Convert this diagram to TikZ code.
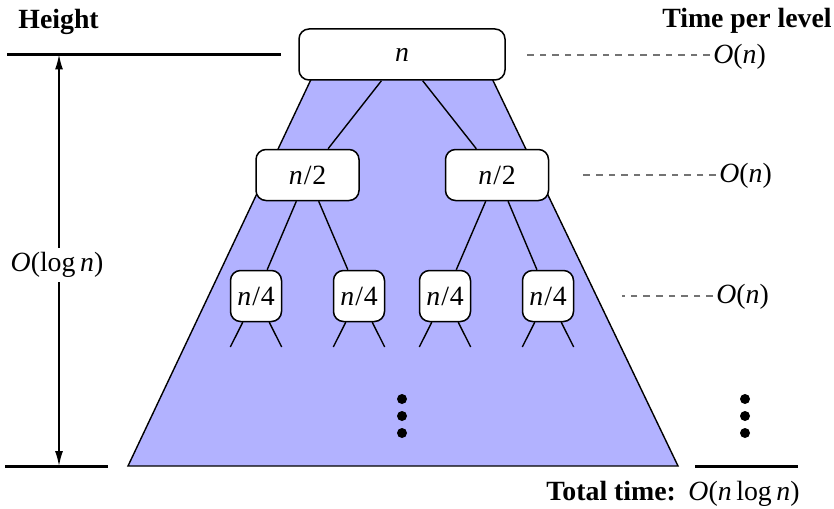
\documentclass[tikz,border=0pt]{standalone}
\usepackage{fontspec}
\setmainfont{Liberation Serif}
\usetikzlibrary{arrows.meta}
\newcommand{\frn}[1]{\textit{n}\kern0.6pt/\kern0.3pt#1}
\begin{document}
\begin{tikzpicture}[x=0.5pt,y=-0.5pt,
  every node/.style={font=\fontsize{13.9}{16}\selectfont, inner sep=0pt},
  box/.style={draw, fill=white, rounded corners=5pt, line width=0.75pt, minimum height=25.5pt},
  widebox/.style={box, minimum width=103pt},
  midbox/.style={box, minimum width=51.5pt},
  smallbox/.style={box, minimum width=25.5pt},
  tedge/.style={line width=0.7pt},
  leveldash/.style={dash pattern=on 3.3pt off 3pt, black!55, line width=0.55pt},
  bar/.style={line width=1.5pt},
  dot/.style={circle, fill=black, minimum size=5pt, inner sep=0pt},
]
\useasboundingbox (0,0) rectangle (834,508);
% shaded recursion region
\fill[blue!30] (322.8,54.5) -- (128,466) -- (678,466) -- (480.5,54.5) -- cycle;
\draw[tedge] (322.8,54.5) -- (128,466) -- (678,466) -- (480.5,54.5);
% tree
\node[widebox] (r) at (402,54.5) {\textit{n}};
\node[midbox] (a) at (307.5,175) {\frn{2}};
\node[midbox] (b) at (497,175) {\frn{2}};
\node[smallbox] (a1) at (256,296) {\frn{4}};
\node[smallbox] (a2) at (359,296) {\frn{4}};
\node[smallbox] (b1) at (445,296) {\frn{4}};
\node[smallbox] (b2) at (548,296) {\frn{4}};
\draw[tedge] (r) -- (a);
\draw[tedge] (r) -- (b);
\draw[tedge] (a) -- (a1);
\draw[tedge] (a) -- (a2);
\draw[tedge] (b) -- (b1);
\draw[tedge] (b) -- (b2);
\foreach \n in {a1,a2,b1,b2}{
  \draw[tedge] (\n) -- ++(-25.7,51);
  \draw[tedge] (\n) -- ++(25.7,51);
}
% vertical dots
\node[dot] (d1) at (402,399) {};
\node[dot] (d2) at (402,416) {};
\node[dot] (d3) at (402,433) {};
\node[dot] (e1) at (745,399) {};
\node[dot] (e2) at (745,416) {};
\node[dot] (e3) at (745,433) {};
% height
\node[anchor=base west] (hh) at (18,29) {\textbf{Height}};
\coordinate (htop) at (59,54.5);
\coordinate (hbot) at (59,466);
\draw[bar] (7,54.5) -- (281,54.5);
\draw[bar] (5,466) -- (108,466);
\draw[line width=0.7pt, {Latex[length=7.5pt,width=4pt]}-{Latex[length=7.5pt,width=4pt]}] (htop) -- (hbot);
\node[fill=white, inner sep=2pt] (hl) at (57,265) {\textit{O}(log\,\textit{n})};
% time per level
\node[anchor=base east] (tp) at (832,28) {\textbf{Time per level}};
\node[anchor=west] (t1) at (713,57) {\textit{O}(\textit{n})};
\node[anchor=west] (t2) at (719,176) {\textit{O}(\textit{n})};
\node[anchor=west] (t3) at (716,297) {\textit{O}(\textit{n})};
\draw[leveldash] (t1.west) ++(-3,-2) -- ++(-184,0);
\draw[leveldash] (t2.west) ++(-3,-1) -- ++(-136,0);
\draw[leveldash] (t3.west) ++(-3,-1) -- ++(-91,0);
% total
\draw[bar] (695,466) -- (798,466);
\node[anchor=base east] (tt) at (800,500) {\textbf{Total time:}\hspace{0.45em}\textit{O}(\textit{n}\,log\,\textit{n})};
\end{tikzpicture}
\end{document}
